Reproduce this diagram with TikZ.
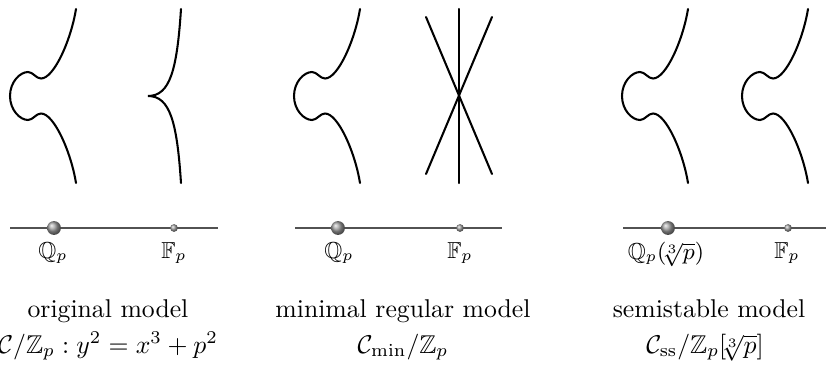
\documentclass[tikz,border=0pt]{standalone}
\usepackage{amssymb}
\begin{document}
\begin{tikzpicture}[x=0.389pt,y=-0.389pt,
  curve/.style={line width=0.8pt, line cap=round},
  axisline/.style={line width=0.55pt, draw=black!68},
  bigball/.style={circle, inner sep=0pt, minimum size=5.4pt, shading=ball, ball color=black!38},
  smallball/.style={circle, inner sep=0pt, minimum size=3pt, shading=ball, ball color=black!38},
  lab/.style={anchor=base, inner sep=0pt, font=\small},
  txt/.style={anchor=base, inner sep=0pt},
  genfib/.pic={
    \draw[curve] (66,-87) .. controls (61,-56) and (44,-17.5) .. (31,-17.5)
      .. controls (26,-17.5) and (23,-24) .. (18,-24)
      .. controls (10,-24) and (0,-14) .. (0,0)
      .. controls (0,14) and (10,24) .. (18,24)
      .. controls (23,24) and (26,17.5) .. (31,17.5)
      .. controls (44,17.5) and (61,56) .. (66,87);
  }]
\useasboundingbox (0,0) rectangle (826,376);

% ---------- left panel: original model ----------
\pic at (10,96) {genfib};
\draw[curve] (181,9) .. controls (177,70) and (170,96) .. (148,96)
  .. controls (170,96) and (177,122) .. (181,183);

\coordinate (a1l) at (10,228);
\coordinate (a1r) at (218,228);
\draw[axisline] (a1l) -- (a1r);
\node[bigball] (q1) at (54,228) {};
\node[smallball] (f1) at (174,228) {};
\node[lab] (lq1) at (53,258) {$\mathbb{Q}_p$};
\node[lab] (lf1) at (174,258) {$\mathbb{F}_p$};
\node[txt] (t1) at (108,317) {original model};
\node[txt] (e1) at (108,353) {$\mathcal{C}/\mathbb{Z}_p : y^2 = x^3 + p^2$};

% ---------- middle panel: minimal regular model ----------
\pic at (294,96) {genfib};
\coordinate (v1) at (459,9);
\coordinate (v2) at (459,183);
\coordinate (d1) at (426,17);
\coordinate (d2) at (492,174);
\coordinate (d3) at (492,17);
\coordinate (d4) at (426,174);
\draw[curve] (v1) -- (v2);
\draw[curve] (d1) -- (d2);
\draw[curve] (d3) -- (d4);

\coordinate (a2l) at (295,228);
\coordinate (a2r) at (502,228);
\draw[axisline] (a2l) -- (a2r);
\node[bigball] (q2) at (338,228) {};
\node[smallball] (f2) at (460,228) {};
\node[lab] (lq2) at (339,258) {$\mathbb{Q}_p$};
\node[lab] (lf2) at (460,258) {$\mathbb{F}_p$};
\node[txt] (t2) at (403,317) {minimal regular model};
\node[txt] (e2) at (403,353) {$\mathcal{C}_{\min}/\mathbb{Z}_p$};

% ---------- right panel: semistable model ----------
\pic at (622,96) {genfib};
\pic at (742,96) {genfib};

\coordinate (a3l) at (623,228);
\coordinate (a3r) at (826,228);
\draw[axisline] (a3l) -- (a3r);
\node[bigball] (q3) at (668,228) {};
\node[smallball] (f3) at (788,228) {};
\node[lab] (lq3) at (666,259) {$\mathbb{Q}_p(\mkern-4mu\sqrt[3]{p})$};
\node[lab] (lf3) at (787,258) {$\mathbb{F}_p$};
\node[txt] (t3) at (709,317) {semistable model};
\node[txt] (e3) at (705,353) {$\mathcal{C}_{\mathrm{ss}}/\mathbb{Z}_p[\mkern-4mu\sqrt[3]{p}]$};
\end{tikzpicture}
\end{document}
